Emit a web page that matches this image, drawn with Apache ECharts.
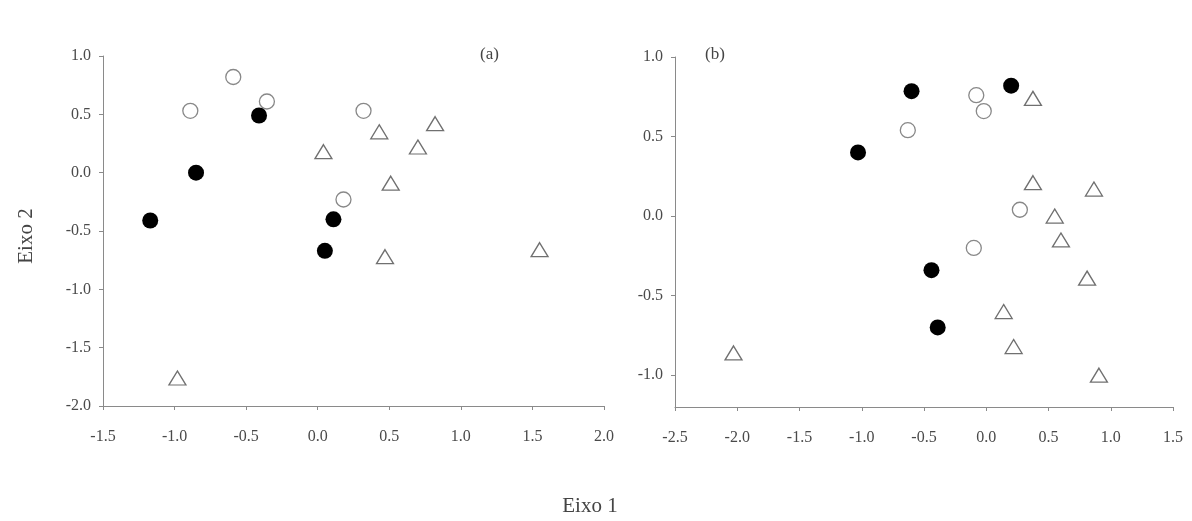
<!DOCTYPE html>
<html><head><meta charset="utf-8">
<script src="https://cdn.jsdelivr.net/npm/echarts@6/dist/echarts.min.js"></script>
<style>html,body{margin:0;padding:0;background:#fff}#c{width:1192px;height:521px}</style>
</head><body><div id="c"></div>
<script>
// Panel (a)
const aFilled = [[-1.17,-0.41],[-0.85,0.00],[-0.41,0.49],[0.11,-0.40],[0.05,-0.67]];
const aOpen = [[-0.89,0.53],[-0.59,0.82],[-0.355,0.61],[0.32,0.53],[0.18,-0.23]];
const aTri = [[0.04,0.18],[0.43,0.35],[0.82,0.42],[0.70,0.22],[0.51,-0.09],[0.47,-0.72],[1.55,-0.66],[-0.98,-1.76]];
// Panel (b)
const bFilled = [[-1.03,0.40],[-0.60,0.785],[0.20,0.82],[-0.44,-0.34],[-0.39,-0.70]];
const bOpen = [[-0.63,0.54],[-0.08,0.76],[-0.02,0.66],[0.27,0.04],[-0.10,-0.20]];
const bTri = [[0.375,0.74],[0.375,0.21],[0.865,0.17],[0.55,0.00],[0.60,-0.15],[0.81,-0.39],[0.14,-0.60],[0.22,-0.82],[0.905,-1.00],[-2.03,-0.86]];
const aXTicks = [-1.5,-1.0,-0.5,0.0,0.5,1.0,1.5,2.0];
const aYTicks = [-2.0,-1.5,-1.0,-0.5,0.0,0.5,1.0];
const bXTicks = [-2.5,-2.0,-1.5,-1.0,-0.5,0.0,0.5,1.0,1.5];
const bYTicks = [-1.0,-0.5,0.0,0.5,1.0];

const font = '"Liberation Serif", "DejaVu Serif", serif';
const lineC = '#8a8a8a';
const txtC = '#4a4a4a';
function axis(gi, min, max, ticks, isX){
  return {
    type:'value', gridIndex:gi, min:min, max:max,
    axisLine:{show:true, onZero:false, lineStyle:{color:lineC, width:1}},
    axisTick:{show:true, length:4, lineStyle:{color:lineC}, customValues:ticks},
    axisLabel:{customValues:ticks, color:txtC, fontFamily:font, fontSize:16,
      margin: isX?23:12, formatter:v=>Number(v).toFixed(1)},
    splitLine:{show:false}
  };
}
const filledStyle = {symbol:'circle', symbolSize:16, itemStyle:{color:'#000', opacity:1}};
const openStyle = {symbol:'circle', symbolSize:15, itemStyle:{color:'#fff', borderColor:'#888', borderWidth:1.3, opacity:1}};
const triStyle = {symbol:'triangle', symbolSize:[17,14], itemStyle:{color:'#fff', borderColor:'#707070', borderWidth:1.3, opacity:1}};
function s(data, st, gi){ return Object.assign({type:'scatter', xAxisIndex:gi, yAxisIndex:gi, data:data, animation:false}, st); }

const chart = echarts.init(document.getElementById('c'), null, {renderer:'canvas'});
chart.setOption({
  backgroundColor:'#fff',
  animation:false,
  grid:[{left:103, top:56, width:501, height:350},{left:675, top:57, width:498, height:350}],
  xAxis:[axis(0,-1.5,2.0,aXTicks,true), axis(1,-2.5,1.5,bXTicks,true)],
  yAxis:[axis(0,-2.0,1.0,aYTicks,false), axis(1,-1.2,1.0,bYTicks,false)],
  series:[
    s(aTri,triStyle,0), s(aOpen,openStyle,0), s(aFilled,filledStyle,0),
    s(bTri,triStyle,1), s(bOpen,openStyle,1), s(bFilled,filledStyle,1)
  ],
  graphic:[
    {type:'text', left:480, top:46, style:{text:'(a)', fill:'#444', font:'17px '+font}},
    {type:'text', left:705, top:46, style:{text:'(b)', fill:'#444', font:'17px '+font}},
    {type:'text', x:26, y:236, rotation:Math.PI/2, style:{text:'Eixo 2', fill:'#444', font:'21px '+font, align:'center', verticalAlign:'middle'}},
    {type:'text', x:590, y:506, style:{text:'Eixo 1', fill:'#444', font:'21px '+font, align:'center', verticalAlign:'middle'}}
  ]
});
</script></body></html>
